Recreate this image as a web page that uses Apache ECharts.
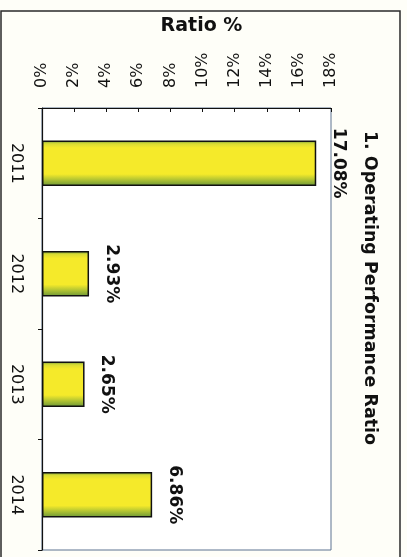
<!DOCTYPE html>
<html>
<head>
<meta charset="utf-8">
<script src="https://cdn.jsdelivr.net/npm/echarts@6/dist/echarts.min.js"></script>
<style>
  html, body { margin: 0; padding: 0; background: #fefef8; }
  #chart { width: 407px; height: 557px; }
</style>
</head>
<body>
<div id="chart"></div>
<script>
// Operating performance ratio by year (percent)
const years = ['2011', '2012', '2013', '2014'];
const ratios = [17.08, 2.93, 2.65, 6.86];
const chartTitle = '1. Operating Performance Ratio';
const axisName = 'Ratio %';

const chart = echarts.init(document.getElementById('chart'));

const barFill = new echarts.graphic.LinearGradient(0, 0, 0, 1, [
  { offset: 0, color: '#6f9a3c' },
  { offset: 0.07, color: '#d9dc34' },
  { offset: 0.16, color: '#f5ea2a' },
  { offset: 0.74, color: '#f5ea2a' },
  { offset: 0.85, color: '#b9c832' },
  { offset: 1, color: '#6a9638' }
]);

chart.setOption({
  backgroundColor: '#fefef8',
  animation: false,
  grid: {
    left: 42, top: 108, width: 289, height: 442,
    show: true, backgroundColor: '#ffffff',
    borderColor: '#5d7390', borderWidth: 1
  },
  graphic: [
    {
      type: 'rect', silent: true,
      shape: { x: 1, y: 11, width: 399, height: 560 },
      style: { fill: null, stroke: '#2a2a2a', lineWidth: 1.5 }
    },
    {
      type: 'text', silent: true,
      x: 370, y: 288, rotation: -Math.PI / 2,
      style: {
        text: chartTitle, fill: '#111',
        font: 'bold 17.5px "DejaVu Sans"',
        align: 'center', verticalAlign: 'middle'
      }
    }
  ],
  xAxis: {
    type: 'value', position: 'top',
    min: 0, max: 18, interval: 2,
    name: axisName, nameLocation: 'middle', nameGap: 72,
    nameTextStyle: {
      fontFamily: 'DejaVu Sans', fontWeight: 'bold', fontSize: 19,
      color: '#111', padding: [0, 0, 0, 30]
    },
    axisLine: { show: true, lineStyle: { color: '#111', width: 1.2 } },
    axisTick: { show: true, inside: true, length: 4, lineStyle: { color: '#111' } },
    splitLine: { show: false },
    axisLabel: {
      rotate: -90, margin: 20, align: 'left', verticalAlign: 'middle',
      formatter: '{value}%', fontFamily: 'DejaVu Sans', fontSize: 16, color: '#111'
    }
  },
  yAxis: {
    type: 'category', data: years, inverse: true,
    axisLine: { show: true, lineStyle: { color: '#111', width: 1.2 } },
    axisTick: { show: true, inside: false, length: 4, lineStyle: { color: '#111' } },
    axisLabel: {
      rotate: -90, margin: 26, align: 'center', verticalAlign: 'middle',
      fontFamily: 'DejaVu Sans', fontSize: 16, color: '#111'
    }
  },
  series: [{
    type: 'bar',
    data: ratios,
    barWidth: '41%',
    itemStyle: { color: barFill, borderColor: '#111', borderWidth: 1.5 },
    label: {
      show: true, position: 'right', distance: 22, rotate: -90,
      align: 'center', verticalAlign: 'middle',
      formatter: p => p.value.toFixed(2) + '%',
      fontFamily: 'DejaVu Sans', fontWeight: 'bold', fontSize: 17, color: '#111'
    }
  }]
});
</script>
</body>
</html>
